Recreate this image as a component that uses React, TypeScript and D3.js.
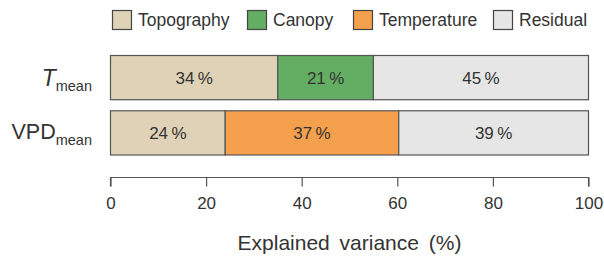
import { useEffect, useRef } from 'react'
import * as d3 from 'd3'

// components of explained variance, per response variable
const components = ['Topography', 'Canopy', 'Temperature', 'Residual']
const colors = ['#dfd2b6', '#63ae62', '#f5a04c', '#e6e6e6']
const rows = ['T', 'VPD']
const tValues = [35, 20, 0, 45]
const vpdValues = [24, 0, 36.3, 39.7]
const tLabels = ['34\u2009%', '21\u2009%', '', '45\u2009%']
const vpdLabels = ['24\u2009%', '', '37\u2009%', '39\u2009%']
const xTicks = [0, 20, 40, 60, 80, 100]

export default function App() {
  const ref = useRef<SVGSVGElement>(null)

  useEffect(() => {
    const svg = d3.select(ref.current)
    svg.selectAll('*').remove()
    const font = 'Liberation Sans, Arial, sans-serif'

    const x = d3.scaleLinear().domain([0, 100]).range([110.5, 588.5])
    const y = d3.scaleBand().domain(rows).range([55.5, 155]).paddingInner(0.2)

    // stack the non-zero components in their fixed order
    const segs = (vals: number[], labs: string[]) => {
      const items = vals.map((v, i) => ({ v, comp: i, label: labs[i] })).filter(d => d.v > 0)
      let acc = 0
      return items.map(d => {
        const s = { ...d, x0: acc, x1: acc + d.v }
        acc += d.v
        return s
      })
    }
    const data = [
      { row: 'T', segs: segs(tValues, tLabels) },
      { row: 'VPD', segs: segs(vpdValues, vpdLabels) },
    ]

    const g = svg.append('g')
    data.forEach(r => {
      const yy = y(r.row)!
      const bw = y.bandwidth()
      g.selectAll(null)
        .data(r.segs)
        .join('rect')
        .attr('x', d => x(d.x0))
        .attr('y', yy)
        .attr('width', d => x(d.x1) - x(d.x0))
        .attr('height', bw)
        .attr('fill', d => colors[d.comp])
        .attr('stroke', '#555')
        .attr('stroke-width', 1.2)
      g.selectAll(null)
        .data(r.segs)
        .join('text')
        .attr('x', d => x((d.x0 + d.x1) / 2))
        .attr('y', yy + bw / 2 + 6)
        .attr('text-anchor', 'middle')
        .attr('font-family', font)
        .attr('font-size', 17)
        .attr('fill', '#333')
        .text(d => d.label)
    })

    // row labels with subscripts
    const tl = g.append('text')
      .attr('x', 92)
      .attr('y', y('T')! + y.bandwidth() / 2 + 8)
      .attr('text-anchor', 'end')
      .attr('font-family', font)
      .attr('fill', '#333')
    tl.append('tspan').attr('font-size', 23).attr('font-style', 'italic').text('T')
    tl.append('tspan').attr('font-size', 14.5).attr('dy', 5).text('mean')

    const vl = g.append('text')
      .attr('x', 92)
      .attr('y', y('VPD')! + y.bandwidth() / 2 + 6)
      .attr('text-anchor', 'end')
      .attr('font-family', font)
      .attr('fill', '#333')
    vl.append('tspan').attr('font-size', 21.5).text('VPD')
    vl.append('tspan').attr('font-size', 14.5).attr('dy', 6).text('mean')

    // x axis
    const axis = svg.append('g')
      .attr('transform', 'translate(0,177.5)')
      .call(d3.axisBottom(x).tickValues(xTicks).tickSize(9).tickSizeOuter(0).tickPadding(10))
    axis.selectAll('.tick line').attr('stroke', '#555').attr('stroke-width', 1.2)
    axis.selectAll('.tick text')
      .attr('font-family', font)
      .attr('font-size', 17)
      .attr('fill', '#333')
    axis.select('.domain')
      .attr('stroke', '#555')
      .attr('stroke-width', 1.2)
      .attr('d', `M${x(0)},9V0H${x(100)}V9`)

    svg.append('text')
      .attr('x', x(50))
      .attr('y', 250)
      .attr('text-anchor', 'middle')
      .attr('font-family', font)
      .attr('font-size', 21)
      .attr('word-spacing', 4)
      .attr('fill', '#333')
      .text('Explained variance (%)')

    // legend
    const legX = [112, 247, 353, 493]
    const leg = svg.append('g')
    components.forEach((c, i) => {
      leg.append('rect')
        .attr('x', legX[i] + 0.5)
        .attr('y', 10.5)
        .attr('width', 19)
        .attr('height', 19)
        .attr('fill', colors[i])
        .attr('stroke', '#444')
        .attr('stroke-width', 1.2)
      leg.append('text')
        .attr('x', legX[i] + 26)
        .attr('y', 26)
        .attr('font-family', font)
        .attr('font-size', 17.5)
        .attr('fill', '#333')
        .text(c)
    })
  }, [])

  return (
    <svg ref={ref} width={604} height={257} style={{ position: 'absolute', left: 0, top: 0, background: '#fff' }} />
  )
}
